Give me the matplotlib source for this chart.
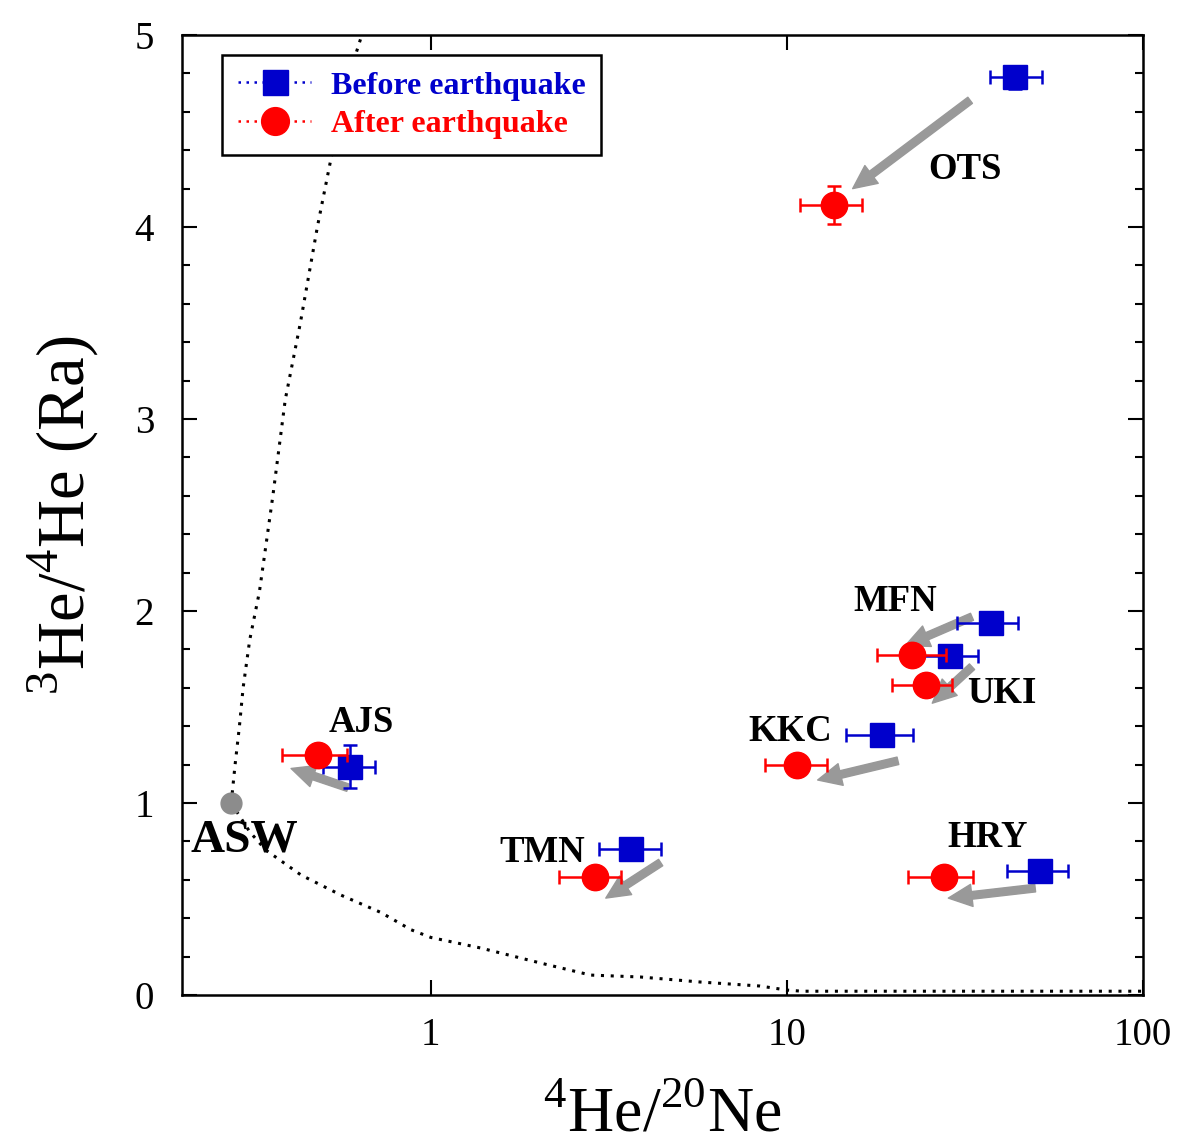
import numpy as np
import matplotlib
matplotlib.use("Agg")
import matplotlib.pyplot as plt
from matplotlib.lines import Line2D
from matplotlib.ticker import FixedLocator, MultipleLocator, NullLocator

plt.rcParams['font.family'] = ['Liberation Serif', 'DejaVu Serif']
plt.rcParams['mathtext.fontset'] = 'custom'
plt.rcParams['mathtext.rm'] = 'Liberation Serif'

# site data: He4/Ne20 (x) and 3He/4He in Ra (y)
sites = ['OTS', 'MFN', 'UKI', 'KKC', 'HRY', 'TMN', 'AJS']

before_x = [43.7, 37.5, 28.7, 18.5, 51.4, 3.66, 0.593]
before_y = [4.78, 1.94, 1.766, 1.354, 0.646, 0.76, 1.19]
before_xlo = [37.2, 30.1, 23.3, 14.7, 41.4, 2.96, 0.498]
before_xhi = [52.1, 44.6, 34.3, 22.6, 61.7, 4.44, 0.696]
before_yerr = [0.06, 0.03, 0.03, 0.03, 0.03, 0.03, 0.11]

after_x = [13.6, 22.5, 24.6, 10.7, 27.7, 2.9, 0.482]
after_y = [4.115, 1.77, 1.615, 1.2, 0.615, 0.615, 1.25]
after_xlo = [10.9, 17.9, 19.7, 8.7, 21.9, 2.29, 0.382]
after_xhi = [16.3, 27.9, 29.1, 13.0, 33.4, 3.43, 0.581]
after_yerr = [0.10, 0.03, 0.03, 0.03, 0.03, 0.03, 0.04]

# arrows (tail -> tip)
arrow_tail = [(32.7, 4.66), (33.1, 1.97), (33.1, 1.71), (20.5, 1.22), (49.8, 0.557), (4.42, 0.69), (0.585, 1.08)]
arrow_tip = [(15.3, 4.20), (21.5, 1.82), (25.6, 1.52), (12.2, 1.12), (28.4, 0.505), (3.10, 0.505), (0.405, 1.18)]

# label positions
label_pos = [(31.7, 4.3), (20.1, 2.05), (40.2, 1.57), (10.2, 1.375), (36.7, 0.82), (2.06, 0.74), (0.637, 1.417)]

# air saturated water
asw_x, asw_y = 0.275, 1.0

# mixing curves
mix_up_x = [0.275, 0.282, 0.29, 0.297, 0.31, 0.33, 0.36, 0.39, 0.43, 0.48, 0.53, 0.58, 0.64]
mix_up_y = [1.0, 1.2, 1.4, 1.6, 1.85, 2.1, 2.6, 3.1, 3.5, 4.0, 4.4, 4.75, 5.0]
mix_lo_x = [0.275, 0.31, 0.344, 0.432, 0.56, 0.724, 0.88, 1.0, 1.38, 2.03, 2.81, 3.88, 5.7, 8.4, 10.0, 11.0, 100.0]
mix_lo_y = [1.0, 0.85, 0.755, 0.625, 0.52, 0.43, 0.34, 0.30, 0.245, 0.167, 0.104, 0.094, 0.068, 0.047, 0.026, 0.02, 0.02]

fig = plt.figure(figsize=(11.77, 11.44), dpi=100)
ax = fig.add_axes([0.1546, 0.1302, 0.9711 - 0.1546, 0.9694 - 0.1302])
ax.set_xscale('log')
ax.set_xlim(0.2, 100)
ax.set_ylim(0, 5)

dots = (0, (1, 2.2))
ax.plot(mix_up_x, mix_up_y, ls=dots, color='black', lw=2.2, zorder=1)
ax.plot(mix_lo_x, mix_lo_y, ls=dots, color='black', lw=2.2, zorder=1)
ax.plot([asw_x], [asw_y], 'o', color='#8c8c8c', ms=15, zorder=2)
ax.text(0.299, 0.807, 'ASW', fontsize=34, fontweight='bold', ha='center', va='center')

for t, h in zip(arrow_tail, arrow_tip):
    ax.annotate('', xy=h, xytext=t,
                arrowprops=dict(facecolor='#999999', edgecolor='#999999',
                                width=5.5, headwidth=16, headlength=17, shrink=0),
                zorder=3)

bx = np.array(before_x)
ax.errorbar(before_x, before_y,
            xerr=[bx - np.array(before_xlo), np.array(before_xhi) - bx],
            yerr=before_yerr, fmt='s', color='#0000cc', ms=17, elinewidth=1.8,
            capsize=5, capthick=1.8, zorder=4)
axx = np.array(after_x)
ax.errorbar(after_x, after_y,
            xerr=[axx - np.array(after_xlo), np.array(after_xhi) - axx],
            yerr=after_yerr, fmt='o', color='#ff0000', ms=19, elinewidth=1.8,
            capsize=5, capthick=1.8, zorder=5)

for name, (lx, ly) in zip(sites, label_pos):
    ax.text(lx, ly, name, fontsize=26.5, fontweight='bold', ha='center', va='center', zorder=6)

# axes style
for s in ax.spines.values():
    s.set_linewidth(1.8)
ax.xaxis.set_major_locator(FixedLocator([1, 10, 100]))
ax.xaxis.set_minor_locator(NullLocator())
ax.set_xticklabels(['1', '10', '100'])
ax.yaxis.set_major_locator(MultipleLocator(1))
ax.yaxis.set_minor_locator(MultipleLocator(0.2))
ax.tick_params(which='both', direction='in', top=True, right=True, labelsize=28, width=1.5)
ax.tick_params(which='major', length=11)
ax.tick_params(which='minor', length=6)
ax.tick_params(axis='y', pad=20)
ax.tick_params(axis='x', pad=16)

ax.set_xlabel(r'$^{4}$He/$^{20}$Ne', fontsize=46, labelpad=24)
ax.set_ylabel(r'$^{3}$He/$^{4}$He (Ra)', fontsize=48, labelpad=24)

handles = [
    Line2D([], [], ls=dots, color='#0000cc', marker='s', ms=18, lw=1.8),
    Line2D([], [], ls=dots, color='#ff0000', marker='o', ms=20, lw=1.8),
]
leg = ax.legend(handles, ['Before earthquake', 'After earthquake'], loc='upper left',
                bbox_to_anchor=(0.0416, 0.979), borderaxespad=0,
                prop={'weight': 'bold', 'size': 23},
                fancybox=False, edgecolor='black', framealpha=1, handlelength=2.3,
                borderpad=0.5, labelspacing=0.3, handletextpad=0.6)
leg.get_frame().set_linewidth(1.8)
for txt, c in zip(leg.get_texts(), ['#0000cc', '#ff0000']):
    txt.set_color(c)

fig.savefig('out.png', dpi=100)
